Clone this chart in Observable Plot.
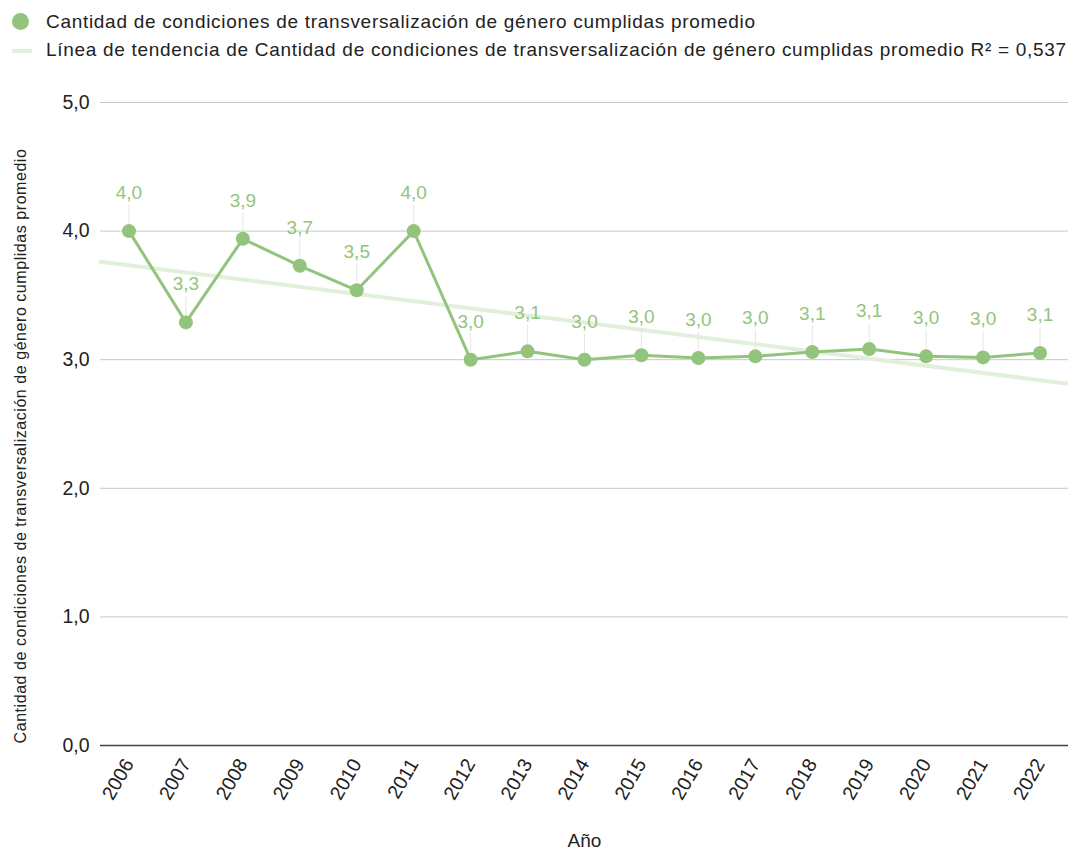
<!DOCTYPE html>
<html>
<head>
<meta charset="utf-8">
<script src="https://cdn.jsdelivr.net/npm/d3@7"></script>
<script src="https://cdn.jsdelivr.net/npm/@observablehq/plot@0.6"></script>
<style>
  body { margin: 0; background: #fff; font-family: "Liberation Sans", Arial, sans-serif; }
  #wrap { position: relative; width: 1068px; height: 849px; }
  .leg { position: absolute; left: 0; font-size: 19px; letter-spacing: 0.7px; color: #222; white-space: nowrap; }
  .leg span.t { position: absolute; left: 46px; top: 0; line-height: 20px; }
  #chart { position: absolute; left: 0; top: 80px; }
</style>
</head>
<body>
<div id="wrap">
  <div class="leg" style="top:12px;">
    <span style="position:absolute;left:12px;top:1px;width:17px;height:17px;border-radius:50%;background:#93c47d;"></span>
    <span class="t">Cantidad de condiciones de transversalización de género cumplidas promedio</span>
  </div>
  <div class="leg" style="top:40px;">
    <span style="position:absolute;left:12px;top:9px;width:20px;height:4px;background:#e2efdb;"></span>
    <span class="t">Línea de tendencia de Cantidad de condiciones de transversalización de género cumplidas promedio R² = 0,537</span>
  </div>
  <div id="chart"></div>
</div>
<script>
const years = [2006, 2007, 2008, 2009, 2010, 2011, 2012, 2013, 2014, 2015, 2016, 2017, 2018, 2019, 2020, 2021, 2022];
const values = [4.0, 3.29, 3.94, 3.73, 3.54, 4.0, 3.0, 3.065, 3.0, 3.035, 3.013, 3.026, 3.06, 3.083, 3.026, 3.018, 3.052];
const trendX = [2005.5, 2022.5];
const trendY = [3.762, 2.813];
const yTicks = [0, 1, 2, 3, 4, 5];
const yTitle = "Cantidad de condiciones de transversalización de género cumplidas promedio";
const xTitle = "Año";

const data = years.map((y, i) => ({year: y, value: values[i]}));
const trend = trendX.map((x, i) => ({x, y: trendY[i]}));
const fmt = v => d3.format(".1f")(v).replace(".", ",");
const green = "#93c47d";

const chart = Plot.plot({
  width: 1068,
  height: 769,
  marginLeft: 100,
  marginRight: 0,
  marginTop: 22,
  marginBottom: 104,
  style: {fontFamily: "'Liberation Sans', Arial, sans-serif", fontSize: "19px", color: "#222"},
  x: {domain: [2005.5, 2022.5]},
  y: {domain: [0, 5]},
  marks: [
    Plot.gridY(yTicks.filter(d => d > 0), {stroke: "#c8c8c8", strokeOpacity: 1, strokeWidth: 1}),
    Plot.ruleY([0], {stroke: "#444", strokeWidth: 1.5}),
    Plot.axisY(yTicks, {tickSize: 0, tickPadding: 11, tickFormat: fmt, label: null, fontSize: 19.5, fill: "#222"}),
    Plot.axisX(years, {tickSize: 0, tickRotate: -60, tickFormat: d => String(d), label: null, fontSize: 19.5, fill: "#222", tickPadding: 15}),
    Plot.line(trend, {x: "x", y: "y", stroke: "#e2efdb", strokeWidth: 4}),
    Plot.ruleX(data, {x: "year", y1: "value", y2: "value", stroke: "#e6e6e6", strokeWidth: 1, insetTop: -26}),
    Plot.line(data, {x: "year", y: "value", stroke: green, strokeWidth: 3}),
    Plot.dot(data, {x: "year", y: "value", r: 7, fill: green}),
    Plot.text(data, {x: "year", y: "value", text: d => fmt(d.value), dy: -38, fill: green, fontSize: 19}),
    Plot.text([yTitle], {frameAnchor: "left", textAnchor: "middle", rotate: -90, dx: -80, dy: 22, fontSize: 16, fill: "#222", style: "letter-spacing:0.55px"}),
    Plot.text([xTitle], {frameAnchor: "bottom", dy: 101, fontSize: 19, fill: "#222"})
  ]
});
chart.querySelectorAll("text").forEach(t => {
  if (t.textContent === yTitle) t.style.letterSpacing = "0.55px";
});
document.getElementById("chart").appendChild(chart);
</script>
</body>
</html>
